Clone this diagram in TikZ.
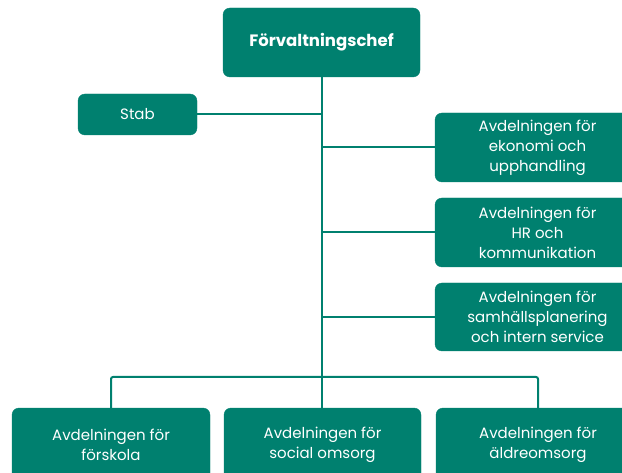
\documentclass[tikz,border=0pt]{standalone}
\usepackage{fontspec}
\setmainfont{Poppins}
\definecolor{teal1}{HTML}{00806F}
\begin{document}
\begin{tikzpicture}[x=1pt,y=1pt,
  box/.style={draw=teal1, fill=teal1, rounded corners=7pt, text=white, align=center,
    font=\fontsize{15}{20}\selectfont, inner sep=0pt},
  link/.style={draw=teal1, line width=2pt}]
\useasboundingbox (0,0) rectangle (622,472);
\clip (0,0) rectangle (622,472);
\node[box, minimum width=197, minimum height=69, font=\fontsize{16.5}{20}\selectfont\bfseries] (top) at (321.5,429.5) {Förvaltningschef};
\node[box, minimum width=119, minimum height=41] (stab) at (137.5,357.5) {Stab};
\node[box, minimum width=205, minimum height=69] (r1) at (537.5,324.5) {Avdelningen för\\ekonomi och\\upphandling};
\node[box, minimum width=205, minimum height=69] (r2) at (537.5,239.5) {Avdelningen för\\HR och\\kommunikation};
\node[box, minimum width=205, minimum height=68] (r3) at (537.5,155) {Avdelningen för\\samhällsplanering\\och intern service};
\node[box, minimum width=198, minimum height=74] (b1) at (111,27) {Avdelningen för\\förskola};
\node[box, minimum width=197, minimum height=74] (b2) at (322.5,27) {Avdelningen för\\social omsorg};
\node[box, minimum width=204, minimum height=74] (b3) at (538,27) {Avdelningen för\\äldreomsorg};
\coordinate (bus) at (322,95);
\draw[link] (top.south -| bus) -- (bus);
\draw[link] (stab.east) -- (stab.east -| bus);
\foreach \n in {r1,r2,r3} \draw[link] (\n.west -| bus) -- (\n.west);
\draw[link, rounded corners=2pt] (b1.north) |- (bus) -| (b3.north);
\draw[link] (bus) -- (b2.north -| bus);
\end{tikzpicture}
\end{document}
